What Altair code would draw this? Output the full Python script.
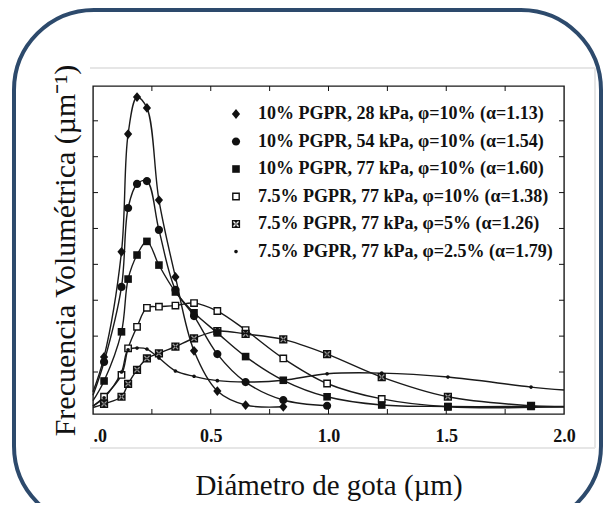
import altair as alt
import pandas as pd

# ---------------- data ----------------
series = [
    "10% PGPR, 28 kPa, φ=10% (α=1.13)",
    "10% PGPR, 54 kPa, φ=10% (α=1.54)",
    "10% PGPR, 77 kPa, φ=10% (α=1.60)",
    "7.5% PGPR, 77 kPa, φ=10% (α=1.38)",
    "7.5% PGPR, 77 kPa, φ=5% (α=1.26)",
    "7.5% PGPR, 77 kPa, φ=2.5% (α=1.79)",
]

# droplet-diameter bins (µm)
x_bins = [0.047, 0.121, 0.149, 0.187, 0.229, 0.280, 0.350, 0.429,
          0.528, 0.648, 0.808, 0.994, 1.226, 1.507, 1.860]

# volume frequency (arbitrary units, one unit = one y tick)
y_28kpa = [1.42, 4.35, 7.63, 8.66, 8.36, 5.79, 3.65, 1.59, 0.47, 0.08, 0.03]
y_54kpa = [1.28, 3.37, 5.57, 6.24, 6.32, 4.96, 3.29, 2.56, 1.50, 0.72, 0.22, 0.06]
y_77kpa = [0.75, 2.12, 3.59, 4.26, 4.64, 3.98, 3.23, 2.65, 2.09, 1.43, 0.77, 0.31, 0.08, 0.04, 0.04]
y_75_phi10 = [0.31, 0.92, 1.66, 2.26, 2.79, 2.82, 2.85, 2.92, 2.70, 2.17, 1.38, 0.68, 0.25, 0.03]
y_75_phi5 = [0.11, 0.31, 0.67, 1.06, 1.38, 1.52, 1.71, 1.94, 2.14, 2.06, 1.91, 1.50, 0.86, 0.31, 0.06]
y_75_phi25 = [0.28, 1.00, 1.62, 1.67, 1.64, 1.39, 1.03, 0.88, 0.76, 0.72, 0.77, 0.95, 0.97, 0.86, 0.58]

# where each fitted curve begins (x = 0) and, for some, ends (x = 2.0)
curve_start = [0.45, 0.35, 0.20, 0.05, 0.01, 0.05]
curve_end = [None, None, 0.04, 0.03, 0.03, 0.50]

x_ticks = [0.25, 0.5, 0.75, 1.0, 1.25, 1.5, 1.75]
x_labels = [0, 0.5, 1.0, 1.5, 2.0]
y_ticks = [1, 2, 3, 4, 5, 6, 7, 8]

all_y = [y_28kpa, y_54kpa, y_77kpa, y_75_phi10, y_75_phi5, y_75_phi25]

# ---------------- tables ----------------
pts, lns = [], []
for s, ys, y0, y1 in zip(series, all_y, curve_start, curve_end):
    lns.append({"series": s, "x": 0.0, "y": y0})
    for xv, yv in zip(x_bins, ys):
        pts.append({"series": s, "x": xv, "y": yv})
        lns.append({"series": s, "x": xv, "y": yv})
    if y1 is not None:
        lns.append({"series": s, "x": 2.0, "y": y1})
pts_df = pd.DataFrame(pts)
lns_df = pd.DataFrame(lns)
xt_df = pd.DataFrame({"t": x_ticks})
yt_df = pd.DataFrame({"t": y_ticks})
one = pd.DataFrame({"a": [0]})

# ---------------- styling ----------------
W, H = 471, 328
SERIF = "Liberation Serif"
INK = "#111111"
NAVY = "#2d4a6c"

xscale = alt.Scale(domain=[0, 2], nice=False, zero=False)
yscale = alt.Scale(domain=[-0.17, 8.97], nice=False, zero=False)

# marker glyphs as unit paths (unit = 5 px with size 100)
p_diamond = "M0,-0.98L0.82,0L0,0.98L-0.82,0Z"
p_circle = "M-0.82,0A0.82,0.82 0 1,0 0.82,0A0.82,0.82 0 1,0 -0.82,0Z"
p_square = "M-0.76,-0.76H0.76V0.76H-0.76Z"
p_open = "M-0.78,-0.78H0.78V0.78H-0.78Z M-0.5,-0.5V0.5H0.5V-0.5Z"
p_cross = ("M-0.82,-0.82H0.82V0.82H-0.82Z "
           "M-0.6,-0.42L0.42,0.6L0.6,0.42L-0.42,-0.6Z "
           "M0.42,-0.6L-0.6,0.42L-0.42,0.6L0.6,-0.42Z")
p_dot = "M-0.36,0A0.36,0.36 0 1,0 0.36,0A0.36,0.36 0 1,0 -0.36,0Z"
shapes = [p_diamond, p_circle, p_square, p_open, p_cross, p_dot]

# interior fill behind the hollow markers
under_series = [series[3], series[4]]
under_fill = ["#ffffff", "#9a9a9a"]

x_axis = alt.Axis(
    values=x_labels,
    labelExpr="datum.value == 0 ? '.0' : format(datum.value, '.1f')",
    labelFlush=False,
    labelAlign=alt.condition("datum.value == 0", alt.value("left"), alt.value("center")),
    ticks=False, domain=False, grid=False,
    labelFont=SERIF, labelFontWeight="bold", labelFontSize=18, labelColor=INK,
    labelBaseline="alphabetic", labelPadding=27,
    title="Diámetro de gota (µm)", titleFont=SERIF, titleFontSize=29,
    titleFontWeight="normal", titleColor=INK, titleBaseline="alphabetic", titleY=80,
)
y_axis = alt.Axis(
    labels=False, ticks=False, domain=False, grid=False,
    title="Frecuencia Volumétrica (µm⁻¹)", titleFont=SERIF, titleFontSize=30,
    titleFontWeight="normal", titleColor=INK, titleBaseline="alphabetic", titleX=-19,
)

frame = alt.Chart(one).mark_rect(
    filled=False, stroke=NAVY, strokeWidth=4, cornerRadius=80
).encode(x=alt.value(-79), x2=alt.value(508), y=alt.value(-76), y2=alt.value(440))

scan_top = alt.Chart(one).mark_rule(color="#e6e6e6", strokeWidth=2).encode(
    x=alt.value(-3), x2=alt.value(502), y=alt.value(-18))
scan_bottom = alt.Chart(one).mark_rule(color="#e6e6e6", strokeWidth=2).encode(
    x=alt.value(-3), x2=alt.value(502), y=alt.value(362))
scan_right = alt.Chart(one).mark_rule(color="#e6e6e6", strokeWidth=2).encode(
    x=alt.value(502), y=alt.value(-18), y2=alt.value(362))

X = alt.X("x:Q", scale=xscale, axis=x_axis)
Y = alt.Y("y:Q", scale=yscale, axis=y_axis)

lines = alt.Chart(lns_df).mark_line(
    interpolate="catmull-rom", color="#1a1a1a", strokeWidth=1.4
).encode(x=X, y=Y, detail="series:N")

under = alt.Chart(pts_df).transform_filter(
    alt.FieldOneOfPredicate(field="series", oneOf=under_series)
).mark_point(filled=True, shape="square", size=40, opacity=1).encode(
    x=X, y=Y,
    fill=alt.Fill("series:N", scale=alt.Scale(domain=under_series, range=under_fill), legend=None),
)

points = alt.Chart(pts_df).mark_point(
    filled=True, color=INK, size=100, opacity=1
).encode(
    x=X, y=Y,
    shape=alt.Shape("series:N", scale=alt.Scale(domain=series, range=shapes), title=None),
)

XT = alt.X("t:Q", scale=xscale, axis=x_axis)
YT = alt.Y("t:Q", scale=yscale, axis=y_axis)
tick_bottom = alt.Chart(xt_df).mark_rule(color=INK, strokeWidth=1).encode(
    x=XT, y=alt.value(H), y2=alt.value(H - 5))
tick_top = alt.Chart(xt_df).mark_rule(color=INK, strokeWidth=1).encode(
    x=XT, y=alt.value(0), y2=alt.value(5))
tick_left = alt.Chart(yt_df).mark_rule(color=INK, strokeWidth=1).encode(
    y=YT, x=alt.value(0), x2=alt.value(5))
tick_right = alt.Chart(yt_df).mark_rule(color=INK, strokeWidth=1).encode(
    y=YT, x=alt.value(W), x2=alt.value(W - 5))

chart = alt.layer(
    frame, scan_top, scan_bottom, scan_right,
    lines, under, points, tick_bottom, tick_top, tick_left, tick_right,
).properties(
    width=W, height=H,
    autosize=alt.AutoSizeParams(type="none"),
    padding={"left": 85, "top": 78, "right": 39, "bottom": 89},
    background="white",
).configure_view(
    stroke="#1a1a1a", strokeWidth=1.4,
).configure_legend(
    orient="none", legendX=134, legendY=19, padding=0,
    labelFont=SERIF, labelFontWeight="bold", labelFontSize=18, labelColor=INK,
    labelLimit=0, labelOffset=13, rowPadding=9.5, symbolSize=100,
    symbolFillColor=INK, symbolStrokeWidth=0,
)

chart.save("out.html", embed_options={"renderer": "svg", "actions": False})
